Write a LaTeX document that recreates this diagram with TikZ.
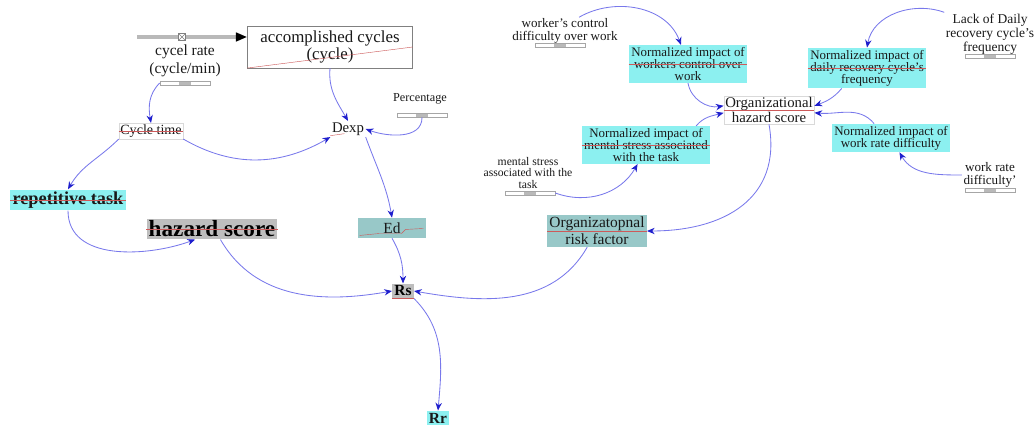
\documentclass[tikz,border=0pt]{standalone}
\usepackage{fontspec}
\setmainfont{Liberation Serif}
\usepackage{xcolor}
\usepackage{tikz}
\usetikzlibrary{arrows.meta}

\definecolor{linkblue}{RGB}{120,120,235}
\definecolor{arrowblue}{RGB}{30,30,205}
\definecolor{boxcyan}{RGB}{140,240,240}
\definecolor{boxteal}{RGB}{152,200,200}
\definecolor{boxgray}{RGB}{190,190,190}
\definecolor{markred}{RGB}{205,90,90}

\begin{document}
\begin{tikzpicture}[x=0.025cm, y=0.025cm,
  link/.style={draw=linkblue, line width=0.6pt, -{Stealth[length=5.5pt,width=4.5pt,color=arrowblue]}},
  pipe/.style={draw=gray!55, line width=2.5pt},
  aux/.style={align=center, text=black!90, inner sep=1pt},
  cyanbox/.style={fill=boxcyan, align=center, text=black!90, inner sep=1.5pt},
  tealbox/.style={fill=boxteal, align=center, text=black!90, inner sep=1.5pt},
  graybox/.style={fill=boxgray, align=center, text=black, inner sep=1.5pt},
  redmark/.style={draw=markred, line width=0.3pt},
  slider/.style={draw=gray!70, fill=white, minimum width=1.25cm, minimum height=0.11cm, inner sep=0pt,
    path picture={\fill[gray!55] ([xshift=-1.5mm]path picture bounding box.south) rectangle ([xshift=1.5mm]path picture bounding box.north);}}
]
\useasboundingbox (0,0) rectangle (1036,432);

% Stock and flow
\node[draw=gray, fill=white, minimum width=4.125cm, minimum height=1cm, align=center, text=black!90,
  font=\fontsize{12}{12}\selectfont] (acc) at (330,385) {accomplished cycles\\(cycle)};
\coordinate (cloud) at (137,395);
\node[draw=gray, fill=white, minimum size=0.18cm, inner sep=0pt,
  path picture={\draw[gray] (path picture bounding box.south west) -- (path picture bounding box.north east)
    (path picture bounding box.north west) -- (path picture bounding box.south east);}] (valve) at (182,395) {};
\draw[pipe] (cloud) -- (valve);
\draw[pipe, -{Triangle[length=8pt,width=6pt,black]}] (valve) -- (valve -| acc.west);
\draw[redmark] (acc.south west) -- (acc.east);

% Variables, left part
\node[aux, font=\fontsize{11}{12.5}\selectfont] (rate) at (185,371) {cycel rate\\(cycle/min)};
\node[aux, draw=gray!30, font=\fontsize{10}{10}\selectfont] (ctime) at (151,301) {Cycle time};
\node[aux, font=\fontsize{10.5}{10.5}\selectfont] (dexp) at (348,303) {Dexp};
\node[aux, font=\fontsize{8.7}{9}\selectfont] (perc) at (420,333) {Percentage};
\node[cyanbox, font=\bfseries\fontsize{13}{13}\selectfont] (reptask) at (68,232) {repetitive task};
\node[graybox, font=\bfseries\fontsize{16.5}{16.5}\selectfont] (hazard) at (212,203) {hazard score};
\node[tealbox, minimum width=1.68cm, minimum height=0.5cm, font=\fontsize{11}{11}\selectfont] (ed) at (392,204) {Ed};
\node[graybox, font=\bfseries\fontsize{11}{11}\selectfont] (rs) at (403,141) {Rs};
\node[cyanbox, font=\bfseries\fontsize{11}{11}\selectfont] (rr) at (438,14) {Rr};
\node[tealbox, font=\fontsize{11}{12}\selectfont] (orgrisk) at (597,201) {Organizatopnal\\risk factor};

% Variables, right part
\node[aux, font=\fontsize{9.3}{8.7}\selectfont] (workctl) at (565,401) {worker's control\\difficulty over work};
\node[cyanbox, font=\fontsize{9.2}{8.6}\selectfont] (nwork) at (688,368) {Normalized impact of\\workers control over\\work};
\node[aux, draw=gray!30, fill=white, font=\fontsize{10.5}{9.5}\selectfont] (orghaz) at (769,322) {Organizational\\hazard score};
\node[cyanbox, font=\fontsize{9.2}{8.6}\selectfont] (ndaily) at (867,364) {Normalized impact of\\daily recovery cycle's\\frequency};
\node[aux, font=\fontsize{9.6}{8.3}\selectfont] (lack) at (990,398) {Lack of Daily\\recovery cycle's\\frequency};
\node[cyanbox, font=\fontsize{9.2}{8.6}\selectfont] (nmental) at (646,287) {Normalized impact of\\mental stress associated\\with the task};
\node[aux, font=\fontsize{8.3}{8.2}\selectfont] (mental) at (528,259) {mental stress\\associated with the\\task};
\node[cyanbox, font=\fontsize{9.2}{8.6}\selectfont] (nrate) at (891,294) {Normalized impact of\\work rate difficulty};
\node[aux, font=\fontsize{9.3}{9}\selectfont] (ratediff) at (990,257) {work rate\\difficulty'};

% Sliders
\foreach \s/\x/\y in {rateslider/185/349, percslider/422/317, workslider/560/387,
  lackslider/990/376, mentalslider/530/239, diffslider/990/242}
{
  \node[slider] (\s) at (\x,\y) {};
}

% Red marks
\draw[redmark] (ctime.west) -- (ctime.east);
\draw[redmark] ([yshift=1pt]dexp.south west) -- ++(14,2);
\draw[redmark] (reptask.west) -- (reptask.east);
\draw[redmark] (hazard.west) -- (hazard.east);
\draw[redmark] ([shift={(1pt,2pt)}]ed.south west) -- ++(20,2) -- ++(22,0) -- ++(4,4) -- ++(18,1);
\draw[redmark] (rs.south west) -- (rs.south east);
\draw[redmark] (nwork.west) -- (nwork.east);
\draw[redmark] (ndaily.west) -- (ndaily.east);
\draw[redmark] (nmental.west) -- (nmental.east);
\draw[redmark] (orghaz.west) -- (orghaz.east);
\draw[redmark] (orgrisk.west) -- (orgrisk.east);

% Links
\draw[link] (rateslider.west) to[out=225,in=100] (ctime.north);
\draw[link] (acc.south) to[out=265,in=120] (dexp.north);
\draw[link] (percslider.south) to[out=270,in=-20] (dexp.east);
\draw[link] (ctime.south east) to[out=-30,in=210] (dexp.south west);
\draw[link] (ctime.south west) to[out=225,in=60] (reptask.north);
\draw[link] (reptask.south) to[out=270,in=200] ([xshift=-12]hazard.south);
\draw[link] ([xshift=6]hazard.south) to[out=-60,in=190] (rs.west);
\draw[link] (dexp.south east) to[out=-70,in=100] (ed.north);
\draw[link] (ed.south) to[out=-60,in=90] (rs.north);
\draw[link] ([xshift=-7]orgrisk.south) to[out=240,in=-10] (rs.east);
\draw[link] (rs.south east) to[out=-45,in=85] (rr.north);
\draw[link] (orghaz.south) to[out=-80,in=0,looseness=1.2] (orgrisk.east);
\draw[link] ([xshift=10]workctl.north) to[out=30,in=110] ([xshift=-5]nwork.north);
\draw[link] (nwork.south) to[out=-80,in=190] ([yshift=3]orghaz.west);
\draw[link] ([xshift=-10]nmental.north east) to[out=50,in=195] ([yshift=-2]orghaz.west);
\draw[link] (mentalslider.east) to[out=-20,in=240] ([xshift=-6]nmental.south);
\draw[link] (lack.north west) to[out=160,in=80] (ndaily.north);
\draw[link] ([xshift=-18]ndaily.south) to[out=230,in=20] ([yshift=3]orghaz.east);
\draw[link] ([xshift=-12]nrate.north) to[out=130,in=-5] ([yshift=-2]orghaz.east);
\draw[link] (ratediff.west) to[out=180,in=-60] ([xshift=6]nrate.south);

\end{tikzpicture}
\end{document}
